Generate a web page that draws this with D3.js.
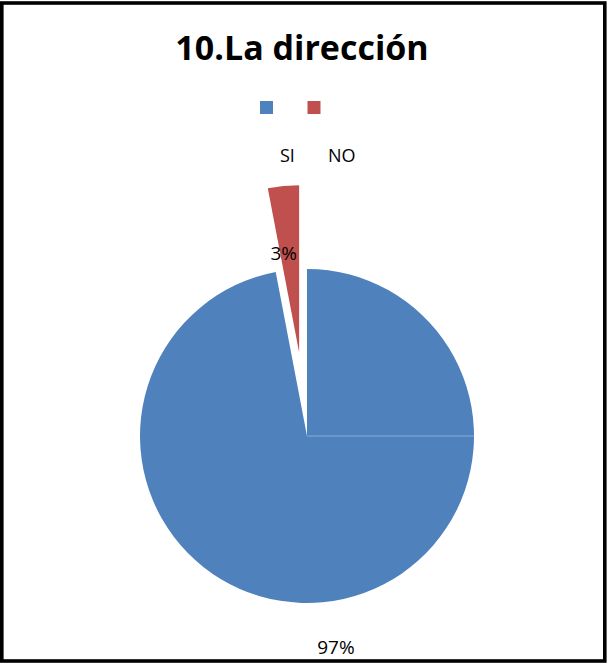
<!DOCTYPE html>
<html>
<head>
<meta charset="utf-8">
<script src="https://cdnjs.cloudflare.com/ajax/libs/d3/7.8.5/d3.min.js"></script>
<style>
  body { margin: 0; background: #fff; }
  svg { display: block; }
</style>
</head>
<body>
<div id="chart"></div>
<script>
// Data
const categories = ["SI", "NO"];
const values = [97, 3];
const labels = ["97%", "3%"];
const colors = ["#4F81BD", "#C0504D"];
const title = "10.La dirección";

const width = 608;
const height = 664;
const cx = 307, cy = 436;
const radius = 167;
const explode = [0, 84];      // offset of each slice along its bisector
const labelRadius = [212, 99];
const labelShift = [9, -6];   // small horizontal nudge of the data labels

const svg = d3.select("#chart")
    .append("svg")
    .attr("width", width)
    .attr("height", height);

// frame
svg.append("rect")
    .attr("x", 1.8)
    .attr("y", 3)
    .attr("width", 603)
    .attr("height", 658)
    .attr("fill", "none")
    .attr("stroke", "#000")
    .attr("stroke-width", 3.6);

// title
svg.append("text")
    .attr("x", 302)
    .attr("y", 60)
    .attr("text-anchor", "middle")
    .style("font-family", "'Open Sans', sans-serif")
    .style("font-weight", "bold")
    .style("font-size", "34px")
    .style("fill", "#000")
    .text(title);

// legend
const legend = svg.selectAll(".legend")
    .data(categories)
    .enter().append("g")
    .attr("class", "legend")
    .attr("transform", (d, i) => `translate(${260 + i * 47.5},101)`);

legend.append("rect")
    .attr("width", 13)
    .attr("height", 13)
    .attr("fill", (d, i) => colors[i]);

legend.append("text")
    .attr("x", (d, i) => i === 0 ? 20 : 20.5)
    .attr("y", 61)
    .style("font-family", "'Open Sans', sans-serif")
    .style("font-size", "18px")
    .style("fill", "#000")
    .text(d => d);

// pie
const pie = d3.pie().value(d => d).sort(null);
const arc = d3.arc().innerRadius(0).outerRadius(radius);
const slices = pie(values);

const g = svg.append("g").attr("transform", `translate(${cx},${cy})`);

function offset(d, dist) {
    const a = (d.startAngle + d.endAngle) / 2;
    return [Math.sin(a) * dist, -Math.cos(a) * dist];
}

g.selectAll(".slice")
    .data(slices)
    .enter().append("path")
    .attr("class", "slice")
    .attr("transform", (d, i) => `translate(${offset(d, explode[i])})`)
    .attr("d", arc)
    .attr("fill", (d, i) => colors[i]);

// faint seam line inside the blue slice
g.append("line")
    .attr("x1", 0).attr("y1", 0)
    .attr("x2", radius).attr("y2", 0)
    .attr("stroke", "#fff")
    .attr("stroke-opacity", 0.35)
    .attr("stroke-width", 1);

// data labels
g.selectAll(".lbl")
    .data(slices)
    .enter().append("text")
    .attr("class", "lbl")
    .attr("transform", (d, i) => {
        const o = offset(d, explode[i]);
        const p = offset(d, labelRadius[i]);
        return `translate(${o[0] + p[0] + labelShift[i]},${o[1] + p[1]})`;
    })
    .attr("text-anchor", "middle")
    .attr("dy", "0.35em")
    .style("font-family", "'Open Sans', sans-serif")
    .style("font-size", "19px")
    .style("fill", "#000")
    .text((d, i) => labels[i]);
</script>
</body>
</html>
